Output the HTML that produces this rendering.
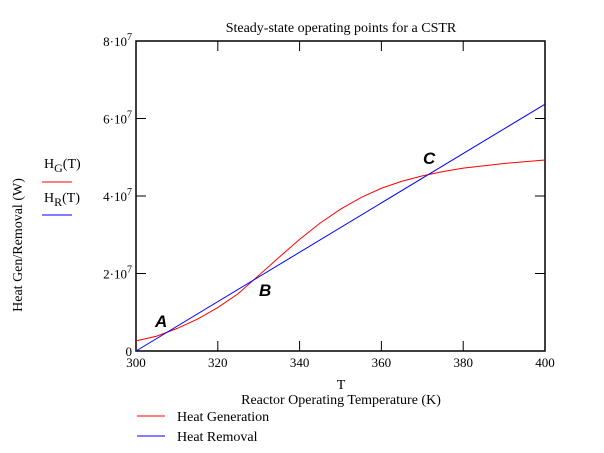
<!DOCTYPE html>
<html><head><meta charset="utf-8"><style>
body{margin:0;background:#fff;}
svg{display:block;font-family:"Liberation Serif",serif;}
</style></head><body>
<svg width="604" height="453" xmlns="http://www.w3.org/2000/svg">
<text x="341" y="32" font-size="14" text-anchor="middle">Steady-state operating points for a CSTR</text>
<g id="axes"></g>
<g id="marks"></g>
<text x="155" y="327" font-family="Liberation Sans,sans-serif" font-weight="bold" font-style="italic" font-size="17">A</text>
<text x="259" y="296" font-family="Liberation Sans,sans-serif" font-weight="bold" font-style="italic" font-size="17">B</text>
<text x="423" y="164" font-family="Liberation Sans,sans-serif" font-weight="bold" font-style="italic" font-size="17">C</text>
<text x="341" y="389" font-size="14" text-anchor="middle">T</text>
<text x="341" y="404" font-size="14" text-anchor="middle">Reactor Operating Temperature (K)</text>
<text transform="translate(22,245) rotate(-90)" font-size="14" text-anchor="middle">Heat Gen/Removal (W)</text>
<text x="44" y="168" font-size="14">H<tspan font-size="12" dy="4">G</tspan><tspan dy="-4">(T)</tspan></text>
<line x1="42" y1="182" x2="72" y2="182" stroke="#f00"/>
<text x="44" y="202" font-size="14">H<tspan font-size="12" dy="4">R</tspan><tspan dy="-4">(T)</tspan></text>
<line x1="42" y1="215" x2="72" y2="215" stroke="#00f"/>
<line x1="137" y1="416" x2="165" y2="416" stroke="#f00"/>
<text x="177" y="421" font-size="14">Heat Generation</text>
<line x1="137" y1="436" x2="165" y2="436" stroke="#00f"/>
<text x="177" y="441" font-size="14">Heat Removal</text>
</svg>
<script>
const temps=[300,305,310,315,320,325,330,335,340,345,350,355,360,365,370,375,380,390,400];
const heatGen=[2.6,3.8,5.8,8.2,11.2,14.8,19.5,24.2,28.8,33.0,36.6,39.6,42.0,43.8,45.2,46.3,47.2,48.4,49.3]; // 1e6 W
const heatRem=[0,63.7]; // 1e6 W at 300 and 400
const remTemps=[300,400];
const xTicks=[300,320,340,360,380,400];
const yTicks=[0,2,4,6,8]; // x1e7
const NS="http://www.w3.org/2000/svg";
const L=136,R=545,T=41,B=351;
const xs=t=>L+(t-300)/100*(R-L);
const ys=v=>B-v/80*(B-T); // v in 1e6
const ax=document.getElementById('axes'),mk=document.getElementById('marks');
function mkEl(tag,attrs,parent){const e=document.createElementNS(NS,tag);for(const k in attrs)e.setAttribute(k,attrs[k]);parent.appendChild(e);return e;}
const frame=mkEl('rect',{x:L,y:T,width:R-L,height:B-T,fill:'none',stroke:'#000','stroke-width':1.5},ax);


xTicks.forEach(t=>{
  const x=xs(t);
  const l1=mkEl('line',{x1:x,y1:B,x2:x,y2:B-10,stroke:'#000'},ax);
  
  
  const l2=mkEl('line',{x1:x,y1:T,x2:x,y2:T+10,stroke:'#000'},ax);
  
  
  const tx=mkEl('text',{x:x,y:B+16,'font-size':13,'text-anchor':'middle'},ax);
  tx.textContent=t;
  
  
});
yTicks.forEach(v=>{
  const y=ys(v*10);
  const l1=mkEl('line',{x1:L,y1:y,x2:L+10,y2:y,stroke:'#000'},ax);
  
  
  const l2=mkEl('line',{x1:R,y1:y,x2:R-10,y2:y,stroke:'#000'},ax);
  
  
  const tx=mkEl('text',{x:L-4,y:y+5,'font-size':13,'text-anchor':'end'},ax);
  if(v===0){tx.textContent='0';}
  else{tx.innerHTML=v+'\u00b710<tspan font-size="10" dy="-6">7</tspan>';}
  
  
});
const gen=mkEl('polyline',{points:temps.map((t,i)=>xs(t)+','+ys(heatGen[i])).join(' '),fill:'none',stroke:'#f00','stroke-width':1},mk);


const rem=mkEl('polyline',{points:remTemps.map((t,i)=>xs(t)+','+ys(heatRem[i])).join(' '),fill:'none',stroke:'#00f','stroke-width':1},mk);


</script>
</body></html>
